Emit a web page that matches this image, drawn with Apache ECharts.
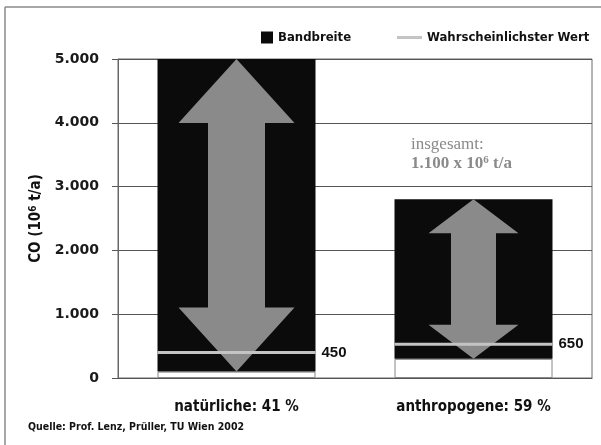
<!DOCTYPE html>
<html>
<head>
<meta charset="utf-8">
<script src="https://cdn.jsdelivr.net/npm/echarts@6/dist/echarts.min.js"></script>
<style>html,body{margin:0;padding:0;background:#fff;}#c{width:601px;height:445px;}</style>
</head>
<body>
<div id="c"></div>
<script>
// ---- data ----
const categories = ['natürliche: 41 %', 'anthropogene: 59 %'];
const rangeMin = [100, 300];        // lower end of Bandbreite
const rangeMax = [5000, 2800];      // upper end of Bandbreite
const likelyValue = [400, 530];     // drawn position of "Wahrscheinlichster Wert"
const likelyLabel = ['450', '650']; // printed value
const yMin = 0, yMax = 5000, yStep = 1000;

// ---- style constants (not data) ----
const NARROW = "'Liberation Sans Narrow', 'DejaVu Sans Condensed', sans-serif";
const BAR_W = 158;
const arrowHeadH = [64, 34];
const arrowHeadHalf = [58, 45];
const arrowShaftHalf = [28.5, 22.5];

const chart = echarts.init(document.getElementById('c'), null, {renderer: 'canvas'});

const spanData = rangeMax.map((v, i) => v - rangeMin[i]);
const arrowData = categories.map((c, i) => [i, rangeMin[i], rangeMax[i]]);
const lineData = categories.map((c, i) => [i, likelyValue[i]]);

function fmt(v) {
  return String(v).replace(/\B(?=(\d{3})+(?!\d))/g, '.');
}

chart.setOption({
  animation: false,
  grid: {left: 118, right: 9, top: 59, bottom: 67, show: true, borderColor: '#6a6a6a', borderWidth: 1, backgroundColor: 'transparent'},
  legend: [
    {data: ['Bandbreite'], left: 256, top: 26, icon: 'rect', itemWidth: 12, itemHeight: 12,
     textStyle: {fontFamily: NARROW, fontWeight: 'bold', fontSize: 13, color: '#111'}},
    {data: ['Wahrscheinlichster Wert'], left: 392, top: 26, icon: 'rect', itemWidth: 25, itemHeight: 3,
     textStyle: {fontFamily: NARROW, fontWeight: 'bold', fontSize: 13, color: '#111'}}
  ],
  xAxis: {
    type: 'category', data: categories,
    axisLine: {show: true, lineStyle: {color: '#555', width: 1}},
    axisTick: {show: false},
    axisLabel: {margin: 22, fontFamily: NARROW, fontWeight: 'bold', fontSize: 15, color: '#111'}
  },
  yAxis: {
    type: 'value', min: yMin, max: yMax, interval: yStep,
    name: 'CO (10{sup|6} t/a)',
    nameLocation: 'middle', nameGap: 74,
    nameTextStyle: {fontFamily: NARROW, fontWeight: 'bold', fontSize: 15, color: '#111',
      rich: {sup: {fontFamily: NARROW, fontWeight: 'bold', fontSize: 10, verticalAlign: 'top', padding: [0, 0, 6, 0], color: '#111'}}},
    axisLine: {show: true, lineStyle: {color: '#666', width: 1}},
    axisTick: {show: true, inside: false, length: 6, lineStyle: {color: '#555'}},
    axisLabel: {margin: 19, formatter: fmt, fontFamily: "'DejaVu Sans', sans-serif", fontWeight: 'bold', fontSize: 14, color: '#1a1a1a'},
    splitLine: {show: true, lineStyle: {color: '#555', width: 1}}
  },
  series: [
    {
      name: 'base', type: 'bar', stack: 'a', barWidth: BAR_W, z: 2,
      data: rangeMin,
      itemStyle: {color: '#fff', borderColor: '#888', borderWidth: 1},
      silent: true
    },
    {
      name: 'Bandbreite', type: 'bar', stack: 'a', barWidth: BAR_W, z: 2,
      data: spanData,
      itemStyle: {color: '#0b0b0b'}
    },
    {
      name: 'arrows', type: 'custom', z: 3, silent: true,
      data: arrowData,
      renderItem: function (params, api) {
        const i = api.value(0);
        const top = api.coord([i, api.value(2)]);
        const bot = api.coord([i, api.value(1)]);
        const cx = top[0];
        const hh = arrowHeadH[i], hw = arrowHeadHalf[i], sw = arrowShaftHalf[i];
        const y0 = top[1], y1 = bot[1];
        const pts = [
          [cx, y0], [cx + hw, y0 + hh], [cx + sw, y0 + hh], [cx + sw, y1 - hh],
          [cx + hw, y1 - hh], [cx, y1], [cx - hw, y1 - hh], [cx - sw, y1 - hh],
          [cx - sw, y0 + hh], [cx - hw, y0 + hh]
        ];
        return {type: 'polygon', shape: {points: pts}, style: {fill: '#8a8a8a'}};
      }
    },
    {
      name: 'Wahrscheinlichster Wert', type: 'custom', z: 4,
      itemStyle: {color: '#c4c4c4'},
      data: lineData,
      renderItem: function (params, api) {
        const i = api.value(0);
        const p = api.coord([i, api.value(1)]);
        const x0 = p[0] - BAR_W / 2, x1 = p[0] + BAR_W / 2;
        return {
          type: 'group',
          children: [
            {type: 'line', shape: {x1: x0, y1: p[1], x2: x1, y2: p[1]}, style: {stroke: '#c4c4c4', lineWidth: 3}},
            {type: 'text', style: {x: x1 + 6, y: p[1], text: likelyLabel[i], textVerticalAlign: 'middle', verticalAlign: 'middle',
              font: "bold 15px 'Liberation Sans', sans-serif", fill: '#111'}}
          ]
        };
      }
    }
  ],
  graphic: [
    {type: 'line', shape: {x1: 5, y1: 7, x2: 601, y2: 7}, style: {stroke: '#8a8a8a', lineWidth: 1.5}, silent: true},
    {type: 'line', shape: {x1: 5, y1: 7, x2: 5, y2: 445}, style: {stroke: '#8a8a8a', lineWidth: 1.5}, silent: true},
    {type: 'text', left: 411, top: 136, silent: true,
     style: {text: 'insgesamt:', font: "17px 'Liberation Serif', serif", fill: '#8a8a8a'}},
    {type: 'text', left: 411, top: 155, silent: true,
     style: {text: '1.100 x 10{sup|6} t/a', font: "bold 17px 'Liberation Serif', serif", fill: '#8a8a8a',
       rich: {sup: {font: "bold 11px 'Liberation Serif', serif", fill: '#8a8a8a', verticalAlign: 'top', padding: [0, 0, 7, 0]}}}},
    {type: 'text', left: 28, top: 422, silent: true,
     style: {text: 'Quelle: Prof. Lenz, Prüller, TU Wien 2002', font: "bold 10.5px " + NARROW, fill: '#111'}}
  ]
});
</script>
</body>
</html>
